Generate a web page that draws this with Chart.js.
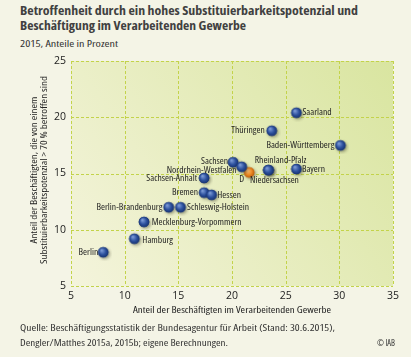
<!DOCTYPE html>
<html><head><meta charset="utf-8">
<script src="https://cdn.jsdelivr.net/npm/chart.js@4"></script>
<style>
html,body{margin:0;padding:0;background:#f4f4e6;width:411px;height:357px;overflow:hidden;}
body{position:relative;font-family:"Open Sans",sans-serif;font-stretch:75%;color:#333;}
#c{position:absolute;left:0;top:0;}
.ln{display:block;white-space:nowrap;}
.ln span{display:inline-block;transform-origin:0 50%;}
.t{position:absolute;left:20px;top:4px;font-weight:bold;font-size:12px;line-height:14.5px;color:#404040;}
.s{position:absolute;left:20px;top:37px;font-size:9.5px;color:#333;}
.f{position:absolute;left:20px;top:320px;font-size:9.5px;line-height:15px;color:#333;}
.i{position:absolute;left:377px;top:335px;font-size:9.5px;line-height:15px;color:#333;}
</style></head><body>
<div class="t"><span class="ln"><span data-w="338">Betroffenheit durch ein hohes Substituierbarkeitspotenzial und</span></span><span class="ln"><span data-w="226">Beschäftigung im Verarbeitenden Gewerbe</span></span></div>
<div class="s"><span class="ln"><span data-w="98">2015, Anteile in Prozent</span></span></div>
<canvas id="c" width="411" height="357"></canvas>
<div class="f"><span class="ln"><span data-w="315">Quelle: Beschäftigungsstatistik der Bundesagentur für Arbeit (Stand: 30.6.2015),</span></span><span class="ln"><span data-w="208">Dengler/Matthes 2015a, 2015b; eigene Berechnungen.</span></span></div>
<div class="i"><span class="ln"><span data-w="18">© IAB</span></span></div>
<script>
// ---- data ----
const regions = ["Saarland","Thüringen","Baden-Württemberg","Sachsen","Nordrhein-Westfalen","D","Rheinland-Pfalz","Niedersachsen","Bayern","Sachsen-Anhalt","Bremen","Hessen","Berlin-Brandenburg","Schleswig-Holstein","Mecklenburg-Vorpommern","Hamburg","Berlin"];
const manufacturingShare = [26.0,23.7,30.1,20.1,20.9,21.6,23.4,23.4,26.0,17.4,17.4,18.1,14.1,15.2,11.8,10.9,8.0];
const substitutableShare = [20.4,18.8,17.5,16.0,15.6,15.1,15.3,15.3,15.4,14.6,13.3,13.1,12.0,12.0,10.7,9.2,8.0];
const xTicks = [5,10,15,20,25,30,35];
const yTicks = [5,10,15,20,25];
const nationalLabel = "D";
const xTitle = "Anteil der Beschäftigten im Verarbeitenden Gewerbe";
const yTitle = ["Anteil der Beschäftigten, die von einem","Substituierbarkeitspotenzial > 70 % betroffen sind"];

// label placement (style only): [align, dx, dy]
const labelPlacement = [["left",6,0],["right",-7,0],["right",-6,0],["right",-5,-1],["right",-5,3.5],["center",-7.5,7],["center",12,-10],["center",6,10],["left",5.5,0],["right",-7,0],["right",-6,0],["left",5.6,0],["right",-6.3,0],["left",6.6,0],["left",7.7,0],["left",8,2],["right",-5,0]];

const FAMILY = '"Open Sans",sans-serif';

// fit HTML lines horizontally
document.querySelectorAll('[data-w]').forEach(el=>{
  const w=el.getBoundingClientRect().width;const t=+el.dataset.w;
  el.style.transform='scaleX('+(t/w).toFixed(4)+')';
});

function sphere(c1,c2,c3){
  const cv=document.createElement('canvas');cv.width=18;cv.height=18;
  const g=cv.getContext('2d');
  g.save();g.shadowColor='rgba(60,60,40,0.45)';g.shadowBlur=3;g.shadowOffsetX=1.5;g.shadowOffsetY=1.5;
  g.beginPath();g.arc(9,9,5.3,0,Math.PI*2);g.fillStyle=c3;g.fill();g.restore();
  const rg=g.createRadialGradient(7.3,7,0.5,9,9,5.6);
  rg.addColorStop(0,c1);rg.addColorStop(0.55,c2);rg.addColorStop(1,c3);
  g.beginPath();g.arc(9,9,5.3,0,Math.PI*2);g.fillStyle=rg;g.fill();
  return cv;
}
const blueBall=sphere('#7c9ad6','#2d519e','#152f6c');
const orangeBall=sphere('#ffc27a','#ee8a25','#b85a0a');

const statesPts=[],dPts=[];
regions.forEach((r,i)=>{
  const p={x:manufacturingShare[i],y:substitutableShare[i],label:r,place:labelPlacement[i]};
  (r===nationalLabel?dPts:statesPts).push(p);
});

const gridColor='#c3d34a';
const bgPlugin={id:'bg',beforeDraw(chart){
  const {ctx,chartArea:a}=chart;
  const g=ctx.createLinearGradient(a.left,a.bottom,a.right,a.top);
  g.addColorStop(0,'#f4f4dc');g.addColorStop(1,'#d9e5a0');
  ctx.save();ctx.fillStyle=g;ctx.fillRect(a.left,a.top,a.right-a.left,a.bottom-a.top);
  const xs=chart.scales.x, ys=chart.scales.y;
  ctx.strokeStyle=gridColor;ctx.lineWidth=1;ctx.setLineDash([3,2]);
  xs.ticks.forEach(t=>{const px=Math.round(xs.getPixelForValue(t.value))+0.5;ctx.beginPath();ctx.moveTo(px,a.top);ctx.lineTo(px,a.bottom);ctx.stroke();});
  ys.ticks.forEach(t=>{const py=Math.round(ys.getPixelForValue(t.value))+0.5;ctx.beginPath();ctx.moveTo(a.left,py);ctx.lineTo(a.right,py);ctx.stroke();});
  ctx.restore();
}};
const textPlugin={id:'lbl',afterDatasetsDraw(chart){
  const ctx=chart.ctx,a=chart.chartArea;ctx.save();
  ctx.fontStretch='condensed';
  ctx.font='9.5px '+FAMILY;ctx.fontStretch='condensed';ctx.fillStyle='#1e1e1e';ctx.textBaseline='middle';
  const sx=68/ctx.measureText('Baden-Württemberg').width;
  chart.data.datasets.forEach((ds,di)=>{
    chart.getDatasetMeta(di).data.forEach((el,j)=>{
      const p=ds.data[j];const [al,dx,dy]=p.place;
      ctx.save();ctx.translate(el.x+dx,el.y+dy);ctx.scale(sx,1);
      ctx.textAlign=al;ctx.fillText(p.label,0,0);ctx.restore();
    });
  });
  ctx.font='9.5px '+FAMILY;ctx.fontStretch='condensed';ctx.fillStyle='#222';ctx.textAlign='center';
  const tx=198/ctx.measureText(xTitle).width;
  ctx.save();ctx.translate((a.left+a.right)/2,310);ctx.scale(tx,1);ctx.fillText(xTitle,0,0);ctx.restore();
  yTitle.forEach((s,k)=>{
    ctx.save();ctx.translate(34+k*10.2,170);ctx.rotate(-Math.PI/2);ctx.scale(tx,1);ctx.fillText(s,0,0);ctx.restore();
  });
  ctx.restore();
}};

new Chart(document.getElementById('c'),{
  type:'scatter',
  data:{datasets:[
    {data:statesPts,pointStyle:blueBall,pointRadius:9,pointHoverRadius:9},
    {data:dPts,pointStyle:orangeBall,pointRadius:9,pointHoverRadius:9}
  ]},
  options:{
    responsive:false,animation:false,events:[],
    layout:{padding:{top:61,right:18,left:0,bottom:0}},
    plugins:{legend:{display:false},tooltip:{enabled:false}},
    scales:{
      x:{type:'linear',min:5,max:35,
        afterBuildTicks(s){s.ticks=xTicks.map(v=>({value:v}));},
        afterFit(s){s.height=71;},
        ticks:{font:{family:FAMILY,size:10.5},color:'#222',padding:4},
        grid:{display:false,drawTicks:false},
        border:{display:false}
      },
      y:{type:'linear',min:5,max:25,
        afterBuildTicks(s){s.ticks=yTicks.map(v=>({value:v}));},
        afterFit(s){s.width=71;},
        ticks:{font:{family:FAMILY,size:10.5},color:'#222',padding:5},
        grid:{display:false,drawTicks:false},
        border:{display:false}
      }
    }
  },
  plugins:[bgPlugin,textPlugin]
});
</script></body></html>
